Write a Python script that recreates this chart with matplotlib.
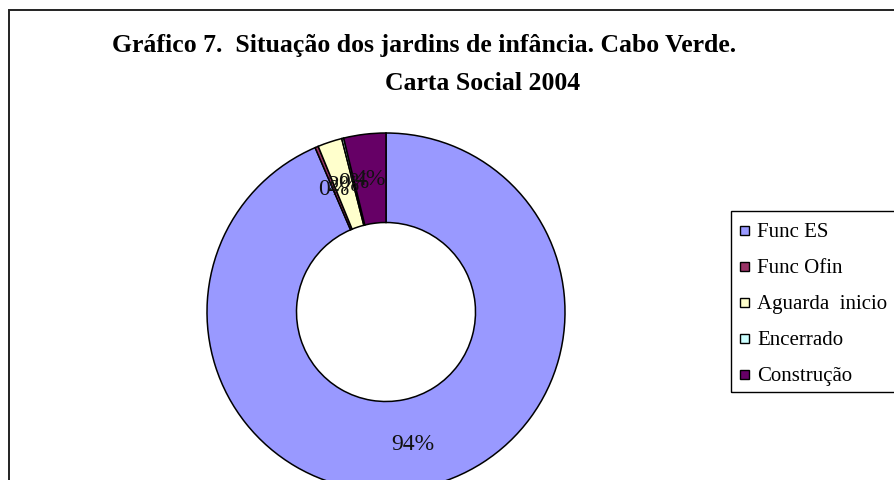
import matplotlib
matplotlib.use('Agg')
import matplotlib.pyplot as plt
from matplotlib.patches import Rectangle

categories = ['Func ES', 'Func Ofin', 'Aguarda  inicio', 'Encerrado', 'Construção']
values = [93.52, 0.3, 2.2, 0.18, 3.8]
colors = ['#9999FF', '#993366', '#FFFFCC', '#CCFFFF', '#660066']
title_lines = ['Gráfico 7.  Situação dos jardins de infância. Cabo Verde.', 'Carta Social 2004']

plt.rcParams['font.family'] = ['Liberation Serif', 'DejaVu Serif']

W, H = 894, 481
fig = plt.figure(figsize=(W / 100, H / 100), dpi=100)


def fx(px):
    return px / W


def fy(py):
    return 1 - py / H


# outer chart frame (extends beyond right and bottom edges)
fig.add_artist(Rectangle((fx(8.5), fy(700)), 2, fy(10.5) - fy(700),
                         transform=fig.transFigure, fill=False,
                         edgecolor='#222222', lw=1.4))

# donut
cx, cy, r = 386, 313, 179
ax = fig.add_axes([fx(cx - r), fy(cy + r), 2 * r / W, 2 * r / H])
wedges, texts, autotexts = ax.pie(
    values, colors=colors, startangle=90, counterclock=False, radius=1,
    wedgeprops=dict(width=0.5, edgecolor='black', linewidth=1.1),
    autopct='%.0f%%', pctdistance=0.75,
    textprops=dict(fontsize=17, color='#111111'))
for w in wedges:
    w.set_clip_on(False)
for t in autotexts:
    t.set_clip_on(False)
ax.set_xlim(-1, 1)
ax.set_ylim(-1, 1)
ax.set_aspect('equal')
ax.axis('off')

# title
fig.text(fx(424), fy(52), title_lines[0], ha='center', va='baseline',
         fontsize=18.5, fontweight='bold')
fig.text(fx(483), fy(90), title_lines[1], ha='center', va='baseline',
         fontsize=18.5, fontweight='bold')

# legend
fig.add_artist(Rectangle((fx(731), fy(393)), 1, fy(212) - fy(393),
                         transform=fig.transFigure, fill=False,
                         edgecolor='black', lw=1.0))
for i, (cat, col) in enumerate(zip(categories, colors)):
    yc = 231.7 + 36 * i
    fig.add_artist(Rectangle((fx(740), fy(yc + 4.5)), 9 / W, 9 / H,
                             transform=fig.transFigure, facecolor=col,
                             edgecolor='black', lw=1.0))
    fig.text(fx(757), fy(yc + 5.5), cat, ha='left', va='baseline', fontsize=15)

fig.savefig('out.png', dpi=100)
